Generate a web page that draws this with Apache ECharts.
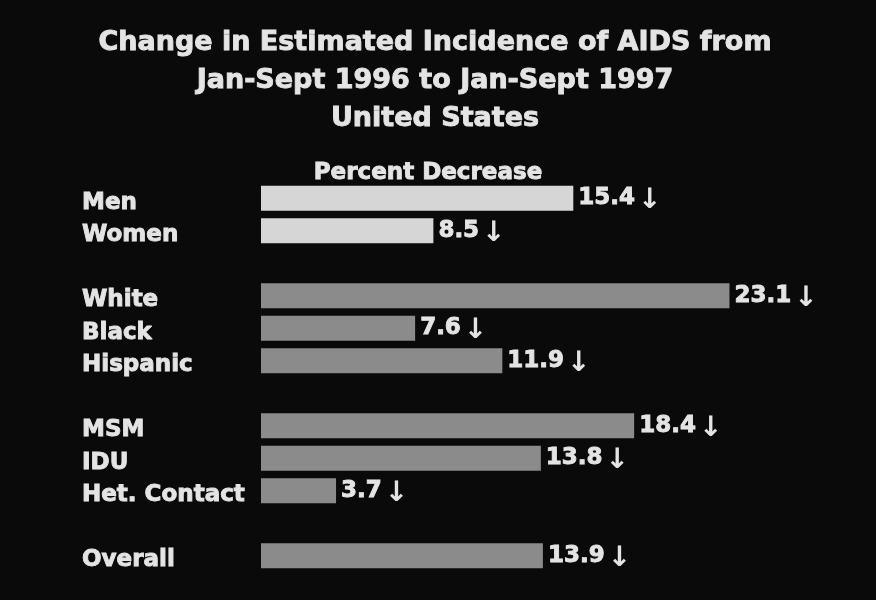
<!DOCTYPE html>
<html>
<head>
<meta charset="utf-8">
<script src="https://cdn.jsdelivr.net/npm/echarts@6/dist/echarts.min.js"></script>
<style>
html,body{margin:0;padding:0;background:#0a0a0a;}
#chart{width:876px;height:600px;}
</style>
</head>
<body>
<div id="chart"></div>
<script>
const titleLines = ['Change in Estimated Incidence of AIDS from', 'Jan-Sept 1996 to Jan-Sept 1997', 'United States'];
const subtitle = 'Percent Decrease';
const categories = ['Men', 'Women', '', 'White', 'Black', 'Hispanic', '', 'MSM', 'IDU', 'Het. Contact', '', 'Overall'];
const values = [15.4, 8.5, null, 23.1, 7.6, 11.9, null, 18.4, 13.8, 3.7, null, 13.9];
const groups = ['sex', 'sex', null, 'other', 'other', 'other', null, 'other', 'other', 'other', null, 'other'];

const groupColor = { sex: '#d6d6d6', other: '#8b8b8b' };
const font = 'DejaVu Sans';
const textCol = '#e4e4e4';
const heavy = { textBorderColor: textCol, textBorderWidth: 0.9 };

const chart = echarts.init(document.getElementById('chart'), null, { renderer: 'canvas' });
chart.setOption({
  backgroundColor: '#0a0a0a',
  animation: false,
  title: [
    {
      text: titleLines.join('\n'),
      left: 430, top: 19, textAlign: 'center',
      textStyle: Object.assign({ color: textCol, fontFamily: font, fontWeight: 'bold', fontSize: 27, lineHeight: 38 }, heavy)
    },
    {
      text: subtitle,
      left: 423, top: 154, textAlign: 'center',
      textStyle: Object.assign({ color: textCol, fontFamily: font, fontWeight: 'bold', fontSize: 23, lineHeight: 28 }, heavy)
    }
  ],
  grid: { left: 261, right: 108, top: 182, bottom: 28, containLabel: false },
  xAxis: {
    type: 'value', min: 0, max: 25, show: false
  },
  yAxis: {
    type: 'category', data: categories, inverse: true,
    axisLine: { show: false }, axisTick: { show: false }, splitLine: { show: false },
    axisLabel: {
      align: 'left', margin: 179,
      formatter: v => v ? '{l|' + v + '}' : '',
      rich: {
        l: Object.assign({ color: textCol, fontFamily: font, fontWeight: 'bold', fontSize: 23, padding: [9, 0, 0, 0] }, heavy)
      }
    }
  },
  series: [{
    type: 'bar',
    barWidth: 25,
    data: values.map((v, i) => ({
      value: v,
      itemStyle: { color: groups[i] ? groupColor[groups[i]] : 'transparent' }
    })),
    label: {
      show: true, position: 'right', distance: 5,
      formatter: p => p.value == null ? '' : '{v|' + p.value.toFixed(1) + '}{a|↓}',
      rich: {
        v: Object.assign({ color: textCol, fontFamily: font, fontWeight: 'bold', fontSize: 23 }, heavy),
        a: { color: textCol, fontFamily: font, fontWeight: 'bold', fontSize: 28, padding: [5, 0, 0, 3] }
      }
    }
  }]
});
</script>
</body>
</html>
